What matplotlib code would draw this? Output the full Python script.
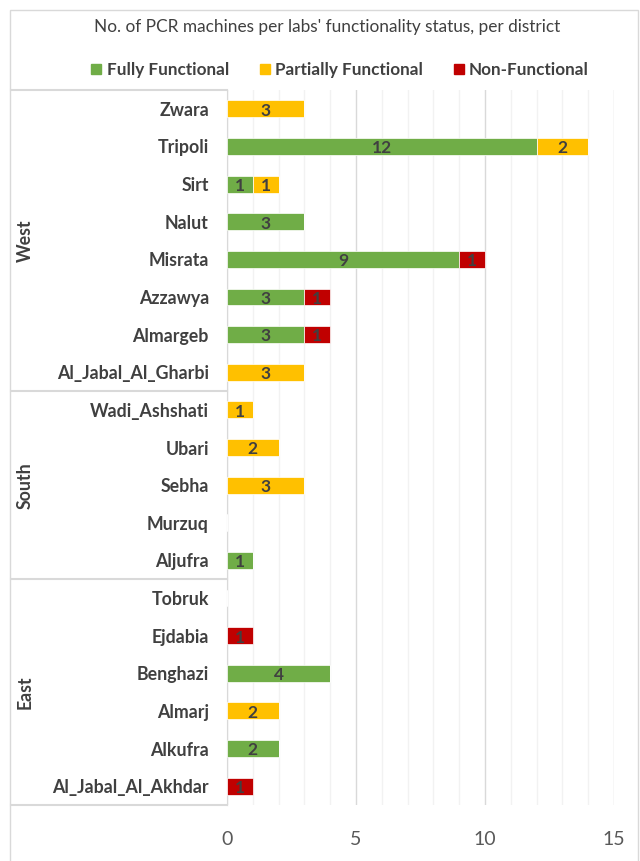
import matplotlib
matplotlib.use("Agg")
import matplotlib.pyplot as plt
from matplotlib.patches import Patch, Rectangle
from matplotlib.lines import Line2D
from matplotlib.ticker import MultipleLocator
import matplotlib.transforms as mtransforms
import numpy as np

plt.rcParams['font.family'] = ['Lato', 'DejaVu Sans']

# data, top to bottom
districts = ['Zwara', 'Tripoli', 'Sirt', 'Nalut', 'Misrata', 'Azzawya', 'Almargeb',
             'Al_Jabal_Al_Gharbi', 'Wadi_Ashshati', 'Ubari', 'Sebha', 'Murzuq', 'Aljufra',
             'Tobruk', 'Ejdabia', 'Benghazi', 'Almarj', 'Alkufra', 'Al_Jabal_Al_Akhdar']
regions = ['West', 'South', 'East']
region_sizes = [8, 5, 6]
fully = [0, 12, 1, 3, 9, 3, 3, 0, 0, 0, 0, 0, 1, 0, 0, 4, 0, 2, 0]
partial = [3, 2, 1, 0, 0, 0, 0, 3, 1, 2, 3, 0, 0, 0, 0, 0, 2, 0, 0]
nonfunc = [0, 0, 0, 0, 1, 1, 1, 0, 0, 0, 0, 0, 0, 0, 1, 0, 0, 0, 1]
series = [('Fully Functional', fully, '#70AD47'),
          ('Partially Functional', partial, '#FFC000'),
          ('Non-Functional', nonfunc, '#C00000')]

W, H = 640, 861
fig = plt.figure(figsize=(W / 100, H / 100), dpi=100)
ax = fig.add_axes([227 / W, 1 - 805 / H, 387 / W, 715 / H])

# outer chart frame
fig.patches.append(Rectangle((10 / W, -0.01), 628 / W, 1 - 10 / H + 0.01,
                             transform=fig.transFigure, fill=False,
                             edgecolor='#D9D9D9', linewidth=1))

y = np.arange(len(districts))
left = np.zeros(len(districts))
for name, vals, col in series:
    vals = np.array(vals, dtype=float)
    ax.barh(y, vals, left=left, height=0.45, color=col, edgecolor='white',
            linewidth=0.5, label=name, zorder=3)
    for yi, (l, v) in enumerate(zip(left, vals)):
        if v > 0:
            ax.text(l + v / 2, yi + 0.05, f'{int(v)}', ha='center', va='center',
                    fontsize=12.5, fontweight='bold', color='#404040', zorder=4)
    left += vals

ax.set_ylim(len(districts) - 0.5, -0.5)
ax.set_xlim(0, 15)
ax.xaxis.set_major_locator(MultipleLocator(5))
ax.xaxis.set_minor_locator(MultipleLocator(1))
ax.grid(axis='x', which='minor', color='#F2F2F2', linewidth=1, zorder=0)
ax.grid(axis='x', which='major', color='#D9D9D9', linewidth=1, zorder=0)
ax.tick_params(axis='x', which='both', length=0, pad=19, labelsize=14, labelcolor='#595959')
ax.set_yticks(y)
ax.set_yticklabels(districts, fontsize=12.8, fontweight='bold', color='#404040')
ax.tick_params(axis='y', length=0, pad=13)
for s in ['top', 'right', 'bottom']:
    ax.spines[s].set_visible(False)
ax.spines['left'].set_color('#D9D9D9')

# region boxes on the left
trans = mtransforms.blended_transform_factory(fig.transFigure, ax.transData)
bounds = np.concatenate([[0], np.cumsum(region_sizes)]) - 0.5
for b in bounds:
    fig.add_artist(Line2D([11 / W, 227 / W], [b, b], transform=trans,
                          color='#D9D9D9', linewidth=1.5))
for i, r in enumerate(regions):
    mid = (bounds[i] + bounds[i + 1]) / 2
    fig.text(25 / W, mid, r, transform=trans, rotation=90, ha='center', va='center',
             fontsize=12.8, fontweight='bold', color='#404040')

fig.text(327 / W, 1 - 27 / H, "No. of PCR machines per labs' functionality status, per district",
         ha='center', va='center', fontsize=12.4, color='#404040')
handles = [Patch(color=c, label=n) for n, _, c in series]
fig.legend(handles=handles, loc='center', bbox_to_anchor=(340 / W, 1 - 70 / H), ncol=3,
           frameon=False, handlelength=0.6, handleheight=0.6, handletextpad=0.3,
           columnspacing=1.8, prop={'size': 12.3, 'weight': 'bold'}, labelcolor='#404040')

fig.savefig('out.png', dpi=100)
